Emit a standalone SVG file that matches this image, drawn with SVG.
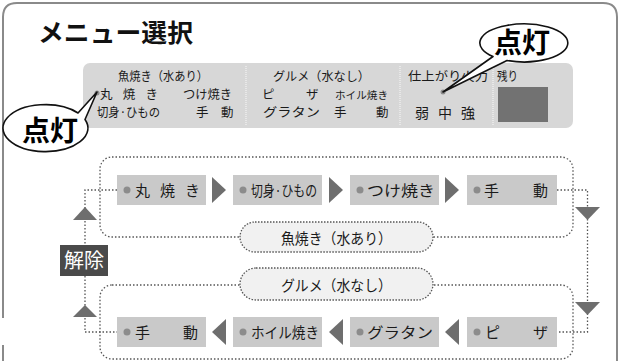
<svg xmlns="http://www.w3.org/2000/svg" width="620" height="361" viewBox="0 0 620 361">
<style>
text{font-family:"Noto Sans CJK JP","Noto Sans",sans-serif;fill:#1a1a1a}
.pt{font-size:12.5px}
.bt{font-size:15px}
.box{fill:#c9c9c9}
.tri{fill:#6e6e6e}
.led{fill:#8c8c8c}
.dot{fill:none;stroke:#555;stroke-width:1.3;stroke-dasharray:1.5 2}
.pill{fill:#f1f1f1;stroke:#555;stroke-width:1.3;stroke-dasharray:1.5 1.5}
.bub{fill:#fff;stroke:#111;stroke-width:1.6;stroke-linejoin:round}
.bubt{font-size:28px;font-weight:bold;fill:#000}
</style>

<g id="frame">
<path d="M3 318 L3 17 Q3 3 17 3 L603 3 Q617 3 617 17 L617 361" fill="none" stroke="#8a8a8a" stroke-width="2"/>
<path d="M3 345 L3 361" fill="none" stroke="#8a8a8a" stroke-width="2"/>
<text x="38" y="42" style="font-size:25px;font-weight:bold;fill:#111" textLength="155" lengthAdjust="spacingAndGlyphs">メニュー選択</text>
</g>

<g id="panel">
<rect x="83" y="63" width="490" height="65" rx="7" fill="#d7d7d7"/>
<g stroke="#f4f4f4" stroke-width="1.2" stroke-dasharray="1 1">
<line x1="246" y1="66" x2="246" y2="125"/>
<line x1="400" y1="66" x2="400" y2="125"/>
<line x1="493" y1="66" x2="493" y2="125"/>
</g>
<text class="pt" x="118" y="81" textLength="90" lengthAdjust="spacingAndGlyphs">魚焼き（水あり）</text>
<circle class="led" cx="97" cy="93" r="2.5"/>
<text class="pt" x="100" y="99" textLength="58" lengthAdjust="spacing">丸 焼 き</text>
<text class="pt" x="183" y="99" textLength="49" lengthAdjust="spacingAndGlyphs">つけ焼き</text>
<text class="pt" x="97" y="117" textLength="63" lengthAdjust="spacingAndGlyphs">切身·ひもの</text>
<text class="pt" x="196" y="117">手</text>
<text class="pt" x="221" y="117">動</text>
<text class="pt" x="273" y="81" textLength="97" lengthAdjust="spacingAndGlyphs">グルメ（水なし）</text>
<text class="pt" x="262" y="99">ピ</text>
<text class="pt" x="306" y="99">ザ</text>
<text x="335" y="99" style="font-size:10.5px" textLength="53" lengthAdjust="spacingAndGlyphs">ホイル焼き</text>
<text class="pt" x="263" y="117" textLength="57" lengthAdjust="spacingAndGlyphs">グラタン</text>
<text class="pt" x="334" y="117">手</text>
<text class="pt" x="376" y="117">動</text>
<text class="pt" x="408" y="81" textLength="80" lengthAdjust="spacingAndGlyphs">仕上がり火力</text>
<circle class="led" cx="443" cy="92" r="2.5"/>
<text x="415" y="118" style="font-size:14px" textLength="60" lengthAdjust="spacing">弱 中 強</text>
<text class="pt" x="497" y="81" textLength="21" lengthAdjust="spacingAndGlyphs">残り</text>
<rect x="498" y="87" width="50" height="35" fill="#727272"/>
</g>

<g id="callout-left">
<path class="bub" d="M78 113 L97 92 L85 119.5 A42.5 23.5 0 1 1 78 113 Z"/>
<text class="bubt" x="50" y="141" text-anchor="middle">点灯</text>
</g>
<g id="callout-right">
<path class="bub" d="M507 60.5 L443 92 L493 56.5 A44 19 0 1 1 507 60.5 Z"/>
<text class="bubt" x="522" y="53" text-anchor="middle">点灯</text>
</g>

<g id="connectors">
<rect class="dot" x="100" y="157" width="473" height="80" rx="12"/>
<rect class="dot" x="100" y="285" width="473" height="74" rx="12"/>
<path class="dot" d="M117 190 H85 V245"/>
<path class="dot" d="M85 276 V332 H117"/>
<path class="dot" d="M557 190 H587.5 V332 H557"/>
<polygon class="tri" points="73,220 97,220 85,207"/>
<polygon class="tri" points="73,317 97,317 85,305"/>
<polygon class="tri" points="575,207 600,207 587.5,220"/>
<polygon class="tri" points="575,302 600,302 587.5,315"/>
<polygon class="tri" points="212,177 226,190 212,203"/>
<polygon class="tri" points="329,177 343,190 329,203"/>
<polygon class="tri" points="445,177 459,190 445,203"/>
<polygon class="tri" points="226,319 212,332 226,345"/>
<polygon class="tri" points="343,319 329,332 343,345"/>
<polygon class="tri" points="459,319 445,332 459,345"/>
</g>

<g id="pill-fish">
<rect class="pill" x="240" y="222" width="193" height="30" rx="15"/>
<text class="bt" x="336.5" y="244" text-anchor="middle" textLength="111" lengthAdjust="spacingAndGlyphs">魚焼き（水あり）</text>
</g>
<g id="pill-gourmet">
<rect class="pill" x="240" y="268" width="193" height="32" rx="16"/>
<text class="bt" x="336.5" y="291" text-anchor="middle" textLength="111" lengthAdjust="spacingAndGlyphs">グルメ（水なし）</text>
</g>

<g id="release">
<rect x="60" y="245" width="48" height="31" fill="#4a4a4a"/>
<text x="84" y="268" text-anchor="middle" style="font-size:20px;fill:#fff" textLength="40" lengthAdjust="spacingAndGlyphs">解除</text>
</g>

<g id="n-maruyaki">
<rect class="box" x="117" y="175" width="89" height="30"/>
<circle class="led" cx="127" cy="190" r="3.5"/>
<text class="bt" x="135" y="196" textLength="65" lengthAdjust="spacing">丸 焼 き</text>
</g>
<g id="n-kirimi">
<rect class="box" x="233" y="175" width="89" height="30"/>
<circle class="led" cx="243" cy="190" r="3.5"/>
<text class="bt" x="251" y="196" textLength="66" lengthAdjust="spacingAndGlyphs">切身·ひもの</text>
</g>
<g id="n-tsukeyaki">
<rect class="box" x="350" y="175" width="89" height="30"/>
<circle class="led" cx="360" cy="190" r="3.5"/>
<text class="bt" x="367" y="196" textLength="68" lengthAdjust="spacingAndGlyphs">つけ焼き</text>
</g>
<g id="n-shudou-fish">
<rect class="box" x="467" y="175" width="90" height="30"/>
<circle class="led" cx="477" cy="190" r="3.5"/>
<text class="bt" x="484" y="196" textLength="64" lengthAdjust="spacing">手 動</text>
</g>

<g id="n-shudou-gourmet">
<rect class="box" x="117" y="317" width="89" height="30"/>
<circle class="led" cx="127" cy="332" r="3.5"/>
<text class="bt" x="135" y="338" textLength="63" lengthAdjust="spacing">手 動</text>
</g>
<g id="n-foil">
<rect class="box" x="233" y="317" width="89" height="30"/>
<circle class="led" cx="243" cy="332" r="3.5"/>
<text class="bt" x="251" y="338" textLength="68" lengthAdjust="spacingAndGlyphs">ホイル焼き</text>
</g>
<g id="n-gratin">
<rect class="box" x="350" y="317" width="89" height="30"/>
<circle class="led" cx="360" cy="332" r="3.5"/>
<text class="bt" x="367" y="338" textLength="66" lengthAdjust="spacingAndGlyphs">グラタン</text>
</g>
<g id="n-pizza">
<rect class="box" x="467" y="317" width="90" height="30"/>
<circle class="led" cx="477" cy="332" r="3.5"/>
<text class="bt" x="485" y="338" textLength="63" lengthAdjust="spacing">ピ ザ</text>
</g>
</svg>
